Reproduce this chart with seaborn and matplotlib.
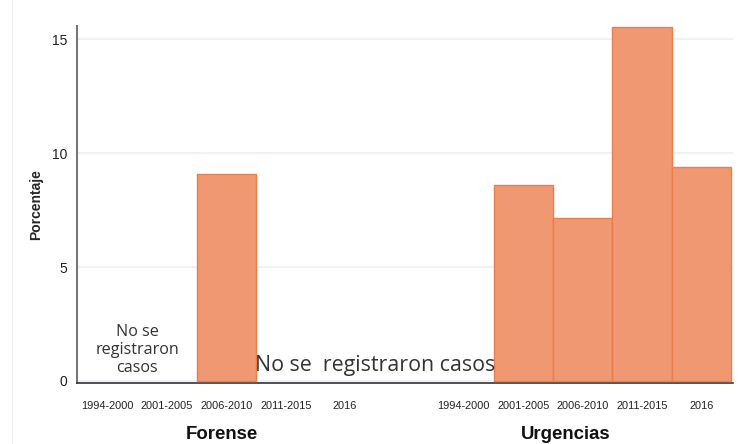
import numpy as np
import pandas as pd
import matplotlib
matplotlib.use("Agg")
import matplotlib.pyplot as plt
import seaborn as sns

# Data
groups = ["Forense", "Urgencias"]
periods = ["1994-2000", "2001-2005", "2006-2010", "2011-2015", "2016"]
forense_pct = [0.0, 0.0, 9.1, 0.0, 0.0]
urgencias_pct = [0.0, 8.6, 7.15, 15.55, 9.4]
y_ticks = [0, 5, 10, 15]

BAR_FILL = "#F09872"
BAR_EDGE = "#EC7D4C"


def build_frame():
    rows = []
    gap = len(periods) + 1
    for g, vals in zip(range(len(groups)), [forense_pct, urgencias_pct]):
        for i, (p, v) in enumerate(zip(periods, vals)):
            rows.append({"group": groups[g], "period": p,
                         "pos": g * gap + i, "pct": v})
    return pd.DataFrame(rows)


def main():
    sns.set_style("white")
    plt.rcParams["font.family"] = ["Liberation Sans", "DejaVu Sans"]

    df = build_frame()
    fig = plt.figure(figsize=(7.46, 4.44), dpi=100)
    ax = fig.add_axes([0.103, 0.137, 0.880, 0.805])

    bars = df[df["pct"] > 0]
    sns.barplot(data=bars, x="pos", y="pct", native_scale=True, width=1,
                color=BAR_FILL, edgecolor=BAR_EDGE, linewidth=1,
                saturation=1, ax=ax, zorder=3)

    ax.set_xlim(df["pos"].min() - 0.52, df["pos"].max() + 0.54)
    ax.set_ylim(-0.1, 15.6)
    ax.set_xticks(df["pos"])
    ax.set_xticklabels(df["period"], fontsize=7.9, color="#222222")
    ax.set_yticks(y_ticks)
    ax.set_yticklabels([str(t) for t in y_ticks], fontsize=10, color="#222222")
    ax.tick_params(axis="x", length=5, width=1, color="#333333", pad=8)
    ax.tick_params(axis="y", length=5, width=1, color="#555555", pad=2)
    ax.yaxis.grid(True, color="#EEF2F6", linewidth=1.5, zorder=0)
    ax.set_axisbelow(True)

    for s in ["top", "right"]:
        ax.spines[s].set_visible(False)
    ax.spines["left"].set_color("#777777")
    ax.spines["left"].set_linewidth(1.5)
    ax.spines["bottom"].set_color("#333333")
    ax.spines["bottom"].set_linewidth(1.2)

    ax.set_xlabel("")
    ax.set_ylabel("Porcentaje", fontsize=10, fontweight="bold", labelpad=6)

    # group labels under each block of periods (nudged left a bit, like the original)
    nudges = [-3, -12]
    for g, dx in zip(groups, nudges):
        center = df.loc[df["group"] == g, "pos"].mean()
        ax.annotate(g, xy=(center, -0.145), xycoords=ax.get_xaxis_transform(),
                    xytext=(dx, 0), textcoords="offset points",
                    ha="center", va="center", fontsize=13.4, fontweight="bold",
                    color="#111111")

    # "no cases" notes
    pos = df["pos"].tolist()
    ax.text((pos[0] + pos[1]) / 2, 0.2, "No se\nregistraron\ncasos",
            ha="center", va="bottom", fontsize=11.6, family="Open Sans",
            color="#333333", linespacing=1.2)
    ax.text((pos[3] + pos[5]) / 2, 0.2, "No se  registraron casos",
            ha="center", va="bottom", fontsize=15.4, family="Open Sans",
            color="#333333")

    # faint panel border on the left
    fig.add_artist(plt.Line2D([0.016, 0.016], [0.0, 1.0], color="#F0F0F0",
                              linewidth=1, transform=fig.transFigure))

    fig.savefig("out.png", dpi=100)
    plt.close(fig)


if __name__ == "__main__":
    main()
